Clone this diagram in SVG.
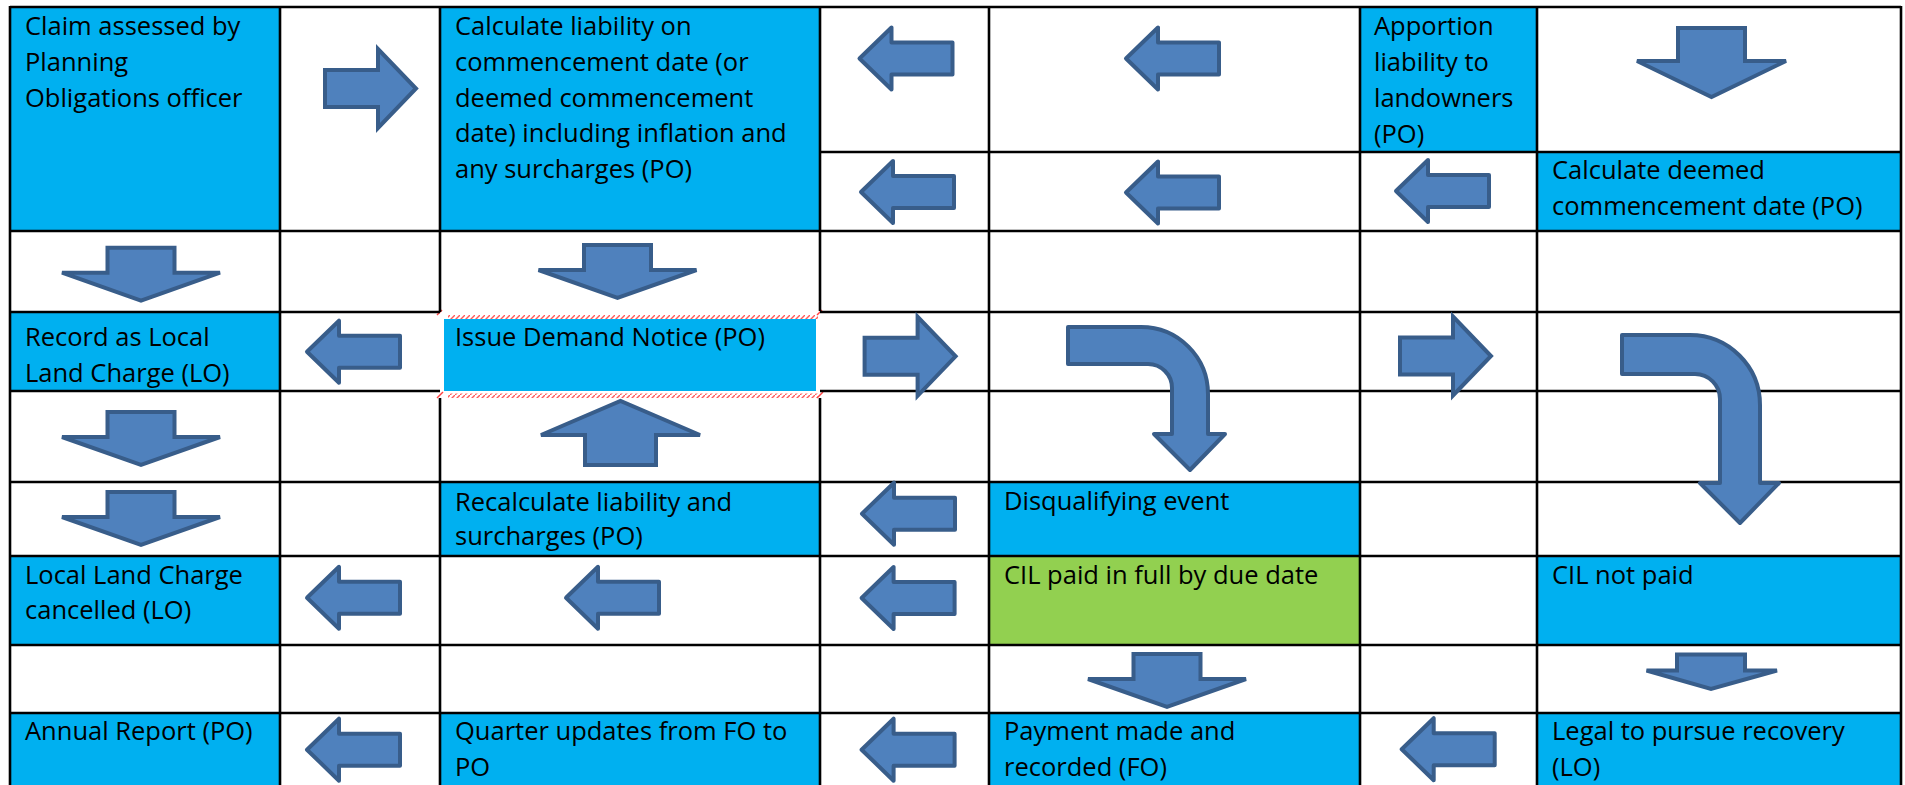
<svg xmlns="http://www.w3.org/2000/svg" width="1905" height="785" viewBox="0 0 1905 785">
<defs>
<style>
.blue{fill:#00b0f0}
.green{fill:#92d050}
.grid line{stroke:#000;stroke-width:2.6}
.arrow{fill:#4f81bd;stroke:#385d8a;stroke-width:4;stroke-linejoin:miter}
.arrow.r{stroke-linejoin:round}
text{font-family:"Open Sans","Noto Sans","Liberation Sans",sans-serif;font-size:25.5px;fill:#000}
.hatch{fill:url(#hatchPat)}
.tick{stroke:#ff4040;stroke-width:1.5}
</style>
<pattern id="hatchPat" width="5" height="5" patternUnits="userSpaceOnUse">
<line x1="0" y1="5" x2="5" y2="0" stroke="#ff5a5a" stroke-width="1.4"/>
</pattern>
<path id="la" d="M3,0 L35,-31 V-16 H96 V16 H35 V31 Z"/>
<path id="ra" d="M2,-18.5 H55 V-39.5 L93,0 L55,39.5 V18.5 H2 Z"/>
<path id="da" d="M-33.5,2 H33.5 V27 H79 L0,55 L-79,27 H-33.5 Z"/>
</defs>
<rect width="1905" height="785" fill="#ffffff"/>

<!-- nodes -->
<g id="claim"><rect class="blue" x="10" y="7" width="270" height="224"/>
<text><tspan x="25" y="35">Claim assessed by</tspan><tspan x="25" y="71">Planning</tspan><tspan x="25" y="107">Obligations officer</tspan></text></g>

<g id="calc-liability"><rect class="blue" x="440" y="7" width="380" height="224"/>
<text><tspan x="455" y="35">Calculate liability on</tspan><tspan x="455" y="71">commencement date (or</tspan><tspan x="455" y="107">deemed commencement</tspan><tspan x="455" y="142">date) including inflation and</tspan><tspan x="455" y="178">any surcharges (PO)</tspan></text></g>

<g id="apportion"><rect class="blue" x="1360" y="7" width="177" height="145"/>
<text><tspan x="1374" y="35">Apportion</tspan><tspan x="1374" y="71">liability to</tspan><tspan x="1374" y="107">landowners</tspan><tspan x="1374" y="143">(PO)</tspan></text></g>

<g id="calc-deemed"><rect class="blue" x="1537" y="152" width="364" height="79"/>
<text><tspan x="1552" y="179">Calculate deemed</tspan><tspan x="1552" y="215">commencement date (PO)</tspan></text></g>

<g id="record-llc"><rect class="blue" x="10" y="312" width="270" height="79"/>
<text><tspan x="25" y="346">Record as Local</tspan><tspan x="25" y="382">Land Charge (LO)</tspan></text></g>

<g id="issue-demand">
<rect class="blue" x="444" y="319" width="372" height="72"/>
<rect class="hatch" x="448" y="315" width="370" height="4"/>
<rect class="hatch" x="448" y="393.5" width="370" height="4.5"/>
<line class="tick" x1="437" y1="315" x2="442" y2="310"/>
<line class="tick" x1="817" y1="315" x2="822" y2="310"/>
<line class="tick" x1="437" y1="398" x2="443" y2="392"/>
<line class="tick" x1="817" y1="398" x2="823" y2="392"/>
<text><tspan x="455" y="346">Issue Demand Notice (PO)</tspan></text></g>

<g id="recalculate"><rect class="blue" x="440" y="482" width="380" height="74"/>
<text><tspan x="455" y="511">Recalculate liability and</tspan><tspan x="455" y="545">surcharges (PO)</tspan></text></g>

<g id="disqualifying"><rect class="blue" x="989" y="482" width="371" height="74"/>
<text><tspan x="1004" y="510">Disqualifying event</tspan></text></g>

<g id="llc-cancelled"><rect class="blue" x="10" y="556" width="270" height="89"/>
<text><tspan x="25" y="584">Local Land Charge</tspan><tspan x="25" y="619">cancelled (LO)</tspan></text></g>

<g id="cil-paid"><rect class="green" x="989" y="556" width="371" height="89"/>
<text><tspan x="1004" y="584">CIL paid in full by due date</tspan></text></g>

<g id="cil-not-paid"><rect class="blue" x="1537" y="556" width="364" height="89"/>
<text><tspan x="1552" y="584">CIL not paid</tspan></text></g>

<g id="annual-report"><rect class="blue" x="10" y="713" width="270" height="72"/>
<text><tspan x="25" y="740">Annual Report (PO)</tspan></text></g>

<g id="quarter-updates"><rect class="blue" x="440" y="713" width="380" height="72"/>
<text><tspan x="455" y="740">Quarter updates from FO to</tspan><tspan x="455" y="776">PO</tspan></text></g>

<g id="payment-made"><rect class="blue" x="989" y="713" width="371" height="72"/>
<text><tspan x="1004" y="740">Payment made and</tspan><tspan x="1004" y="776">recorded (FO)</tspan></text></g>

<g id="legal-recovery"><rect class="blue" x="1537" y="713" width="364" height="72"/>
<text><tspan x="1552" y="740">Legal to pursue recovery</tspan><tspan x="1552" y="776">(LO)</tspan></text></g>

<!-- table grid -->
<g id="grid" class="grid">
<line x1="10" y1="7" x2="1901" y2="7"/>
<line x1="820" y1="152" x2="1901" y2="152"/>
<line x1="10" y1="231" x2="1901" y2="231"/>
<line x1="10" y1="312" x2="440" y2="312"/>
<line x1="820" y1="312" x2="1901" y2="312"/>
<line x1="10" y1="391" x2="440" y2="391"/>
<line x1="820" y1="391" x2="1901" y2="391"/>
<line x1="10" y1="482" x2="1901" y2="482"/>
<line x1="10" y1="556" x2="1901" y2="556"/>
<line x1="10" y1="645" x2="1901" y2="645"/>
<line x1="10" y1="713" x2="1901" y2="713"/>
<line x1="10" y1="6" x2="10" y2="785"/>
<line x1="280" y1="6" x2="280" y2="785"/>
<line x1="440" y1="6" x2="440" y2="312"/>
<line x1="440" y1="398" x2="440" y2="785"/>
<line x1="820" y1="6" x2="820" y2="311"/>
<line x1="820" y1="398" x2="820" y2="785"/>
<line x1="989" y1="6" x2="989" y2="785"/>
<line x1="1360" y1="6" x2="1360" y2="785"/>
<line x1="1537" y1="6" x2="1537" y2="785"/>
<line x1="1901" y1="6" x2="1901" y2="785"/>
</g>

<!-- connectors -->
<g id="connectors">
<use href="#ra" class="arrow" x="323" y="88.5"/>
<use href="#la" class="arrow r" x="856.5" y="58.5"/>
<use href="#la" class="arrow r" x="858" y="192"/>
<use href="#la" class="arrow r" x="1123" y="58.5"/>
<use href="#la" class="arrow r" x="1123" y="192.5"/>
<use href="#la" class="arrow r" x="1393" y="191"/>
<path class="arrow" d="M1678,28 H1745 V61 H1786 L1711.5,97 L1637,61 H1678 Z"/>
<use href="#da" class="arrow" x="141" y="245.7"/>
<use href="#da" class="arrow" x="617.5" y="243"/>
<use href="#la" class="arrow r" x="304" y="351.7"/>
<use href="#ra" class="arrow" x="862.6" y="356.3"/>
<path class="arrow r" d="M1068,327 H1141 A67,67 0 0 1 1208,394 V434 H1225 L1190,470 L1154,434 H1172 V388 A24,24 0 0 0 1148,364 H1068 Z"/>
<use href="#ra" class="arrow" x="1398" y="356"/>
<path class="arrow r" d="M1622,335 H1690 A70,70 0 0 1 1760,405 V483 H1779 L1740,523 L1700,483 H1720 V399 A25,25 0 0 0 1695,374 H1622 Z"/>
<use href="#da" class="arrow" x="141" y="410"/>
<path class="arrow" d="M585,465 H656 V435 H700 L620.5,401 L541,435 H585 Z"/>
<use href="#da" class="arrow" x="141" y="490"/>
<use href="#la" class="arrow r" x="859" y="513.7"/>
<use href="#la" class="arrow r" x="304" y="597.8"/>
<use href="#la" class="arrow r" x="563" y="597.8"/>
<use href="#la" class="arrow r" x="858.6" y="598"/>
<use href="#da" class="arrow" x="1167" y="652"/>
<path class="arrow" d="M1677,654.5 H1745 V670.5 H1777 L1711,689 L1646.5,670.5 H1677 Z"/>
<use href="#la" class="arrow r" x="304" y="749.7"/>
<use href="#la" class="arrow r" x="858.6" y="749.7"/>
<use href="#la" class="arrow r" x="1398.7" y="749.2"/>
</g>
</svg>
